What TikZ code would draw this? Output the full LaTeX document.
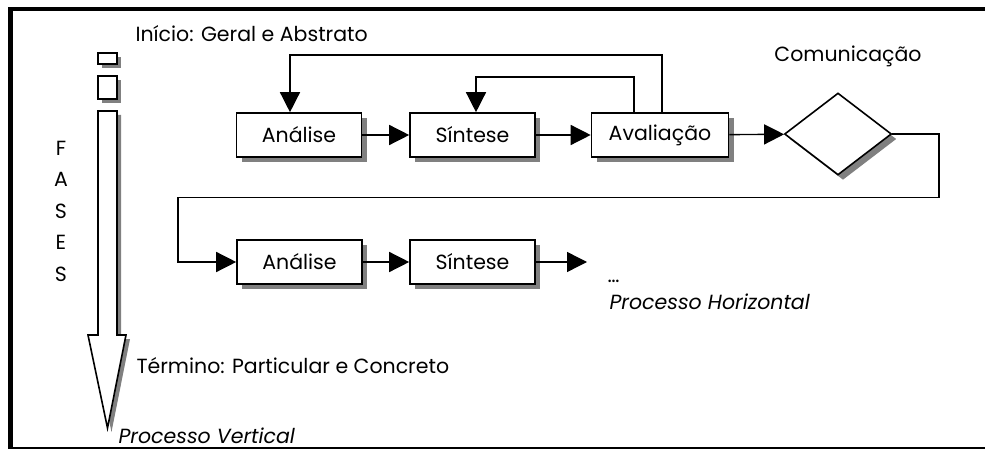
\documentclass[tikz,border=0pt]{standalone}
\usepackage{fontspec}
\setmainfont{Poppins}
\usetikzlibrary{shapes.geometric, arrows.meta, shadows}

\begin{document}
\begin{tikzpicture}[x=1pt, y=-1pt,
    font=\fontsize{20.5}{24}\selectfont,
    shade/.style={drop shadow={shadow xshift=5pt, shadow yshift=-5pt, fill=gray, opacity=1}},
    stagebox/.style={rectangle, draw, line width=1.6pt, fill=white, shade, minimum width=125pt, minimum height=44pt, inner sep=0pt},
    segbox/.style={rectangle, draw, line width=1.6pt, fill=white, minimum width=19pt, inner sep=0pt,
        drop shadow={shadow xshift=4pt, shadow yshift=-4pt, fill=gray, opacity=1}},
    flow/.style={line width=1.4pt, -{Triangle[length=20pt, width=20pt]}},
    link/.style={line width=1.4pt}]
    \useasboundingbox (0,0) rectangle (985,449);

    % frame
    \draw[line width=4.5pt] (10.5,449) -- (10.5,9) -- (985,9);
    \draw[line width=1.5pt] (10.5,448) -- (985,448);

    % vertical process
    \node[segbox, minimum height=11pt] (seg1) at (107.5,58.5) {};
    \node[segbox, minimum height=23pt] (seg2) at (107.5,87.5) {};
    \draw[line width=1.6pt, fill=white, drop shadow={shadow xshift=4pt, shadow yshift=-4pt, fill=gray, opacity=1}]
        (98,111) -- (117,111) -- (117,335) -- (126,335) -- (107.5,428) -- (88,335) -- (98,335) -- cycle;
    \foreach \ch [count=\i] in {F,A,S,E,S}
        \node (fase\i) at (61,116.5+31.5*\i) {\ch};

    \node[anchor=west] (inicio) at (132,34) {Início: Geral e Abstrato};
    \node[anchor=west] (termino) at (133,366) {Término: Particular e Concreto};
    \node[anchor=west] (pvert) at (115,436) {\itshape Processo Vertical};

    % horizontal process
    \node[stagebox] (ana1) at (299,135) {Análise};
    \node[stagebox] (sin1) at (472.5,135) {Síntese};
    \node[stagebox, minimum width=137pt] (ava) at (660,135) {Avaliação};
    \node[diamond, draw, line width=1.6pt, fill=white, shade, aspect=1.3, minimum width=107pt, minimum height=82pt, inner sep=0pt] (com) at (838,134) {};
    \node (comlbl) at (848,56) {Comunicação};

    \node[stagebox] (ana2) at (299.5,262) {Análise};
    \node[stagebox] (sin2) at (472.5,262) {Síntese};
    \coordinate (cont) at (587,262);
    \coordinate (turnR) at (939,197.5);
    \coordinate (turnL) at (178,197.5);
    \node[anchor=west] (dots) at (604,281) {\dots};
    \node[anchor=west] (phor) at (606,302) {\itshape Processo Horizontal};

    \draw[flow] (ana1) -- (sin1);
    \draw[flow] (sin1) -- (ava);
    \draw[flow] (ava) -- (com);
    \draw[flow] ([xshift=2pt]ava.north) -- ++(0,-57) -| ([xshift=-9pt]ana1.north);
    \draw[flow] ([xshift=-26pt]ava.north) -- ++(0,-35) -| ([xshift=3.5pt]sin1.north);
    \draw[link] (com.east) -| (turnR) -- (turnL);
    \draw[flow] (turnL) |- (ana2.west);
    \draw[flow] (ana2) -- (sin2);
    \draw[flow] (sin2) -- (cont);
\end{tikzpicture}
\end{document}
